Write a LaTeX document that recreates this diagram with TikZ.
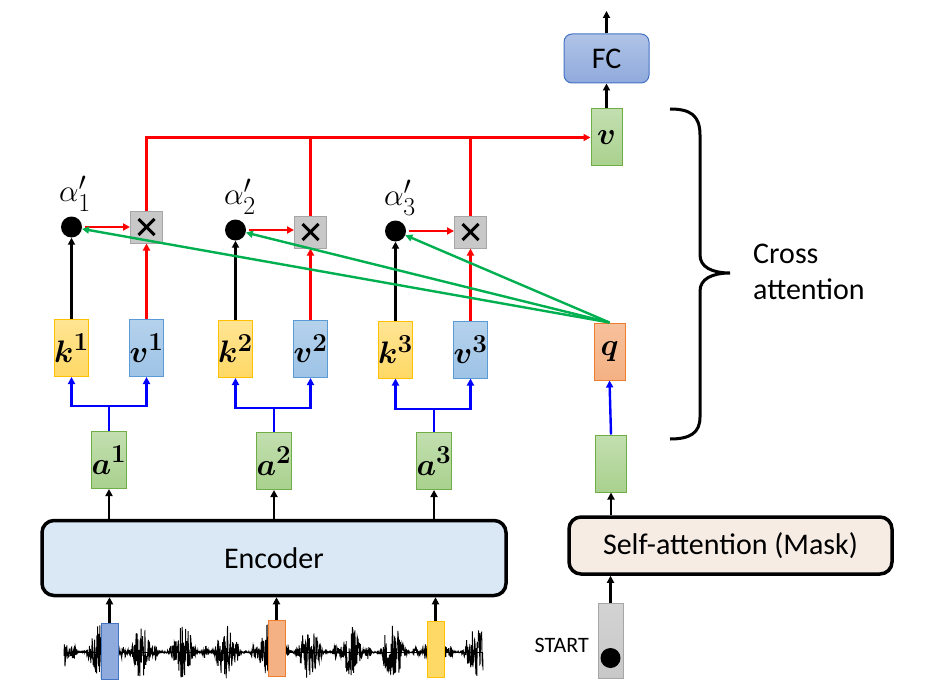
\documentclass[tikz,border=0pt]{standalone}
\usepackage{amsmath,amssymb,bm}
\usepackage{fontspec}
\setmainfont{Carlito}
\usetikzlibrary{arrows.meta,calc}
\newcommand{\bigvec}[1]{\scalebox{1.25}{$\bm{#1}$}}
\newcommand{\biga}[1]{\scalebox{1.25}{$#1$}}
\definecolor{agreen}{HTML}{A9D18E}
\definecolor{agreenb}{HTML}{70AD47}
\definecolor{kfill}{HTML}{FFD966}
\definecolor{kbord}{HTML}{FFC000}
\definecolor{vfill}{HTML}{9DC3E6}
\definecolor{vbord}{HTML}{5B9BD5}
\definecolor{qfill}{HTML}{F4B183}
\definecolor{qbord}{HTML}{ED7D31}
\definecolor{fcfill}{HTML}{8FAADC}
\definecolor{fcbord}{HTML}{4472C4}
\definecolor{xfill}{HTML}{C8C8C8}
\definecolor{xbord}{HTML}{A6A6A6}
\definecolor{encfill}{HTML}{DAE8F5}
\definecolor{safill}{HTML}{F7ECE4}
\definecolor{gline}{HTML}{00B050}
\definecolor{rline}{HTML}{FF0000}
\definecolor{bline}{HTML}{0000FF}
\tikzset{
  vecbox/.style={draw, line width=1pt, minimum width=31pt, minimum height=57pt, inner sep=0pt, font=\fontsize{24.88}{30}\selectfont},
  abox/.style={vecbox, top color=agreen!70, bottom color=agreen, draw=agreenb},
  kbox/.style={vecbox, top color=kfill!70, bottom color=kfill, draw=kbord},
  vbox/.style={vecbox, top color=vfill!75, bottom color=vfill, draw=vbord},
  qbox/.style={vecbox, top color=qfill!80, bottom color=qfill, draw=qbord},
  wbox/.style={draw, line width=1pt, minimum width=17pt, minimum height=56pt, inner sep=0pt},
  xbox/.style={draw=xbord, fill=xfill, line width=1pt, minimum width=32pt, minimum height=32pt, inner sep=0pt},
  dotn/.style={circle, fill=black, minimum size=21pt, inner sep=0pt},
  bigbox/.style={draw, line width=3.5pt, rounded corners=12pt, inner sep=0pt, font=\fontsize{30}{36}\selectfont},
  arr/.style={line width=2.4pt, -{Triangle[length=7pt,width=7pt]}},
  alab/.style={font=\fontsize{24.88}{30}\selectfont, inner sep=0pt},
}
\begin{document}
\begin{tikzpicture}[x=1pt,y=-1pt]
\useasboundingbox (0,0) rectangle (925,687);
% encoder and waveform
\node[bigbox, fill=encfill, minimum width=464pt, minimum height=75pt] (enc) at (274,558) {Encoder};
\pgfmathsetseed{7}
\draw[line width=0.9pt] plot[samples=1300, domain=64:483, variable=\t]
  (\t, {652 + min(27,(1 + 27*abs(sin(4.3*\t+20))^5 + 6*abs(sin(11*\t))^8))*rand});
\draw[line width=1pt] (64,652) -- (483,652);
\node[wbox, fill=fcfill, draw=fcbord] (w1) at (109.5,651) {};
\node[wbox, fill=qfill, draw=qbord] (w2) at (276.5,648.5) {};
\node[wbox, fill=kfill, draw=kbord] (w3) at (435.5,649.5) {};
\foreach \w in {w1,w2,w3} \draw[arr] (\w.north) -- (\w.north |- enc.south);
% a boxes
\node[abox] (a1) at (109,460) {\bigvec{a^1}};
\node[abox] (a2) at (274,461) {\bigvec{a^2}};
\node[abox] (a3) at (434,461) {\bigvec{a^3}};
\foreach \a in {a1,a2,a3} \draw[arr] (\a.south |- enc.north) -- (\a.south);
% k, v boxes
\node[kbox] (k1) at (71.5,348) {\bigvec{k^1}};
\node[vbox] (v1) at (146.5,348) {\bigvec{v^1}};
\node[kbox] (k2) at (235.5,349) {\bigvec{k^2}};
\node[vbox] (v2) at (310.5,349) {\bigvec{v^2}};
\node[kbox] (k3) at (395.5,349.5) {\bigvec{k^3}};
\node[vbox] (v3) at (470.5,349.5) {\bigvec{v^3}};
% blue branches
\foreach \a/\k/\v/\yy in {a1/k1/v1/406, a2/k2/v2/408, a3/k3/v3/409}{
  \draw[line width=2.4pt, bline] (\a.north) -- (\a.north |- 0,\yy);
  \draw[arr, bline] (\a.north |- 0,\yy) -| (\k.south);
  \draw[arr, bline] (\a.north |- 0,\yy) -| (\v.south);
}
% dots and product boxes
\node[dotn] (d1) at (71.5,227) {};
\node[dotn] (d2) at (235.5,230) {};
\node[dotn] (d3) at (395.5,231) {};
\node[xbox] (x1) at (146.5,227) {};
\node[xbox] (x2) at (310.5,232) {};
\node[xbox] (x3) at (470.5,232) {};
\foreach \x in {x1,x2,x3}{
  \draw[line width=3pt] ($(\x)+(-8,-8)$) -- ($(\x)+(8,8)$);
  \draw[line width=3pt] ($(\x)+(-8,8)$) -- ($(\x)+(8,-8)$);
}
\node[alab, anchor=south] (l1) at (75,212) {\biga{\alpha_1'}};
\node[alab, anchor=south] (l2) at (240,215) {\biga{\alpha_2'}};
\node[alab, anchor=south] (l3) at (400,216) {\biga{\alpha_3'}};
\foreach \d/\x/\k/\v in {d1/x1/k1/v1, d2/x2/k2/v2, d3/x3/k3/v3}{
  \draw[arr] (\k.north) -- (\d.south);
  \draw[arr, rline] ([xshift=3pt]\d.east) -- (\x.west |- \d.east);
  \draw[arr, rline] (\v.north) -- (\x.south);
}
% decoder side
\node[bigbox, fill=safill, minimum width=323pt, minimum height=57pt] (sa) at (730.5,545.5) {Self-attention (Mask)};
\node[draw=xbord, line width=1pt, top color=xfill!80, bottom color=xfill, minimum width=25pt, minimum height=75pt, inner sep=0pt] (st) at (610.5,640.5) {};
\node[circle, fill=black, minimum size=20pt, inner sep=0pt] (sd) at (610.5,658) {};
\node[anchor=east, font=\fontsize{22}{26}\selectfont, inner sep=0pt] (stl) at (589,645) {START};
\draw[arr] (st.north) -- (st.north |- sa.south);
\node[abox] (dec) at (611,463.5) {};
\draw[arr] (dec.south |- sa.north) -- (dec.south);
\node[qbox] (q) at (609.5,351.5) {\bigvec{q}};
\draw[arr, bline] (dec.north) -- (q.south);
\foreach \d in {d1,d2,d3} \draw[arr, gline] (q.north) -- (\d);
% output
\node[abox] (vo) at (606.5,137.5) {\bigvec{v}};
\node[draw=fcbord, line width=1pt, top color=fcfill!70, bottom color=fcfill, rounded corners=8pt, minimum width=85pt, minimum height=49pt, inner sep=0pt, font=\fontsize{30}{36}\selectfont] (fc) at (606.5,58.5) {FC};
\coordinate (top) at (606.5,11);
\draw[arr] (vo.north) -- (fc.south);
\draw[arr] (fc.north) -- (top);
\draw[arr, rline] (x1.north) |- (vo.west);
\draw[line width=2.4pt, rline] (x2.north) -- (x2.north |- vo.west);
\draw[line width=2.4pt, rline] (x3.north) -- (x3.north |- vo.west);
% brace
\draw[line width=3pt] (670,109) .. controls (690,109) and (700,115) .. (700,135) -- (700,255)
  .. controls (700,267) and (712,273) .. (730,273)
  .. controls (712,273) and (700,279) .. (700,291) -- (700,417)
  .. controls (700,433) and (690,439) .. (670,439);
\node[anchor=west, align=left, font=\fontsize{30}{36}\selectfont, inner sep=0pt] (ca) at (753,272) {Cross\\attention};
\end{tikzpicture}
\end{document}
